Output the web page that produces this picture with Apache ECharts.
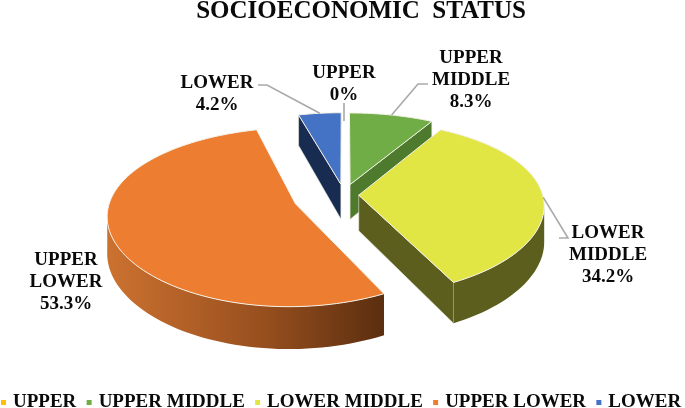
<!DOCTYPE html>
<html><head><meta charset="utf-8">
<style>html,body{margin:0;padding:0;background:#fff}#c{width:685px;height:408px}</style>
<script src="https://cdn.jsdelivr.net/npm/echarts@6/dist/echarts.min.js"></script>
</head><body><div id="c"></div>
<script>
const categories = ['UPPER', 'UPPER MIDDLE', 'LOWER MIDDLE', 'UPPER LOWER', 'LOWER'];
const values = [0, 8.3, 34.2, 53.3, 4.2];
const labelLines = [['UPPER'], ['UPPER', 'MIDDLE'], ['LOWER', 'MIDDLE'], ['UPPER', 'LOWER'], ['LOWER']];

// styles and layout, separate from the data
const topColors = ['#FFC000', '#70AD47', '#E2E645', '#ED7D31', '#4472C4'];
const sideColors = ['#7F6000', '#4E7A2E', '#5C5E1E', '#A85A24', '#182C52'];
const explode = [0, 0.13, 0.08, 0.28, 0.13];
const view = { cx: 344, cy: 195, rx: 184, ry: 85, perspX: 0.115, perspY: 0.1475, depth: 35.5 };
const labelCentres = [[344, 84], [471, 80], [608, 255], [66, 282], [217, 94]];
const leaderStarts = [[[344, 103]], [[428, 84], [418, 84]], [[559, 238], [568, 238]], [], [[258, 85], [267, 85]]];
const RAD = Math.PI / 180;
const total = values.reduce((a, b) => a + b, 0);

function project(wx, wz, down) {
  const sx = 1 / (1 + view.perspX * wz), sy = 1 / (1 + view.perspY * wz);
  return [view.cx + view.rx * wx * sx, view.cy - view.ry * wz * sy + (down ? view.depth * sy : 0)];
}
function sliceAngles(i) {
  let sum = 0;
  for (let k = 0; k < i; k++) sum += values[k];
  return [sum / total * 360, (sum + values[i]) / total * 360];
}
function rim(i, deg, down) {
  const [a0, a1] = sliceAngles(i);
  const m = (a0 + a1) / 2 * RAD, e = explode[i], t = deg * RAD;
  return project(Math.sin(t) + e * Math.sin(m), Math.cos(t) + e * Math.cos(m), down);
}
function apex(i, down) {
  const [a0, a1] = sliceAngles(i);
  const m = (a0 + a1) / 2 * RAD, e = explode[i];
  return project(e * Math.sin(m), e * Math.cos(m), down);
}
function arcPts(i, d0, d1, down) {
  const pts = [], n = Math.max(2, Math.ceil(Math.abs(d1 - d0) / 2));
  for (let k = 0; k <= n; k++) pts.push(rim(i, d0 + (d1 - d0) * k / n, down));
  return pts;
}
function poly(points, style, z2) {
  return { type: 'polygon', shape: { points }, style, z2 };
}
function renderSlice(params, api) {
  const i = api.value(0), children = [];
  const [a0, a1] = sliceAngles(i);
  if (values[i] > 0) {
    // cut faces that turn towards the viewer
    [[a0, -1], [a1, 1]].forEach(([d, sign]) => {
      const t = d * RAD;
      if (sign * -Math.sin(t) < -0.01) {
        children.push(poly([apex(i, false), rim(i, d, false), rim(i, d, true), apex(i, true)],
          { fill: sideColors[i], stroke: '#E8E8D8', lineWidth: 0.6 }, 1));
      }
    });
    // outer wall, only where it faces the viewer
    const lo = Math.max(a0, 97), hi = Math.min(a1, 263);
    if (hi > lo) {
      const pts = arcPts(i, lo, hi, false).concat(arcPts(i, hi, lo, true));
      const fill = i === 3
        ? new echarts.graphic.LinearGradient(0, 0, 1, 0, [
            { offset: 0, color: '#CC7230' }, { offset: 0.55, color: '#99501F' }, { offset: 1, color: '#5B2E0F' }])
        : sideColors[i];
      children.push(poly(pts, { fill, stroke: 'none' }, 2));
    }
    // top face
    const top = [apex(i, false)].concat(arcPts(i, a0, a1, false));
    children.push(poly(top, { fill: topColors[i], stroke: '#F4F1E6', lineWidth: 1 }, 3));
  }
  // leader line and label
  const mid = (a0 + a1) / 2;
  const leader = leaderStarts[i].concat([rim(i, mid, false)]);
  if (leader.length > 1) {
    children.push({ type: 'polyline', shape: { points: leader },
      style: { stroke: '#A9A9A9', lineWidth: 1.6, fill: 'none' }, z2: 4 });
  }
  const text = labelLines[i].concat([values[i] + '%']).join('\n');
  children.push({ type: 'text', x: labelCentres[i][0], y: labelCentres[i][1], z2: 5,
    style: { text, fill: '#0A0A0A', align: 'center', verticalAlign: 'middle',
      font: 'bold 19px "Liberation Serif"', lineHeight: 22 } });
  return { type: 'group', children };
}
const chart = echarts.init(document.getElementById('c'), null, { renderer: 'canvas' });
chart.setOption({
  animation: false,
  backgroundColor: '#fff',
  title: { text: 'SOCIOECONOMIC  STATUS', left: 356, top: -6, textAlign: 'center',
    textStyle: { fontFamily: 'Liberation Serif', fontWeight: 'bold', fontSize: 25, color: '#0A0A0A' } },
  legend: { data: categories, left: -4, top: 388, width: 800, itemWidth: 5, itemHeight: 5, itemGap: 10.3, icon: 'rect',
    textStyle: { fontFamily: 'Liberation Serif', fontWeight: 'bold', fontSize: 19, color: '#0A0A0A', padding: [0, 0, 0, 2] } },
  series: categories.map((name, i) => ({
    type: 'custom', name, coordinateSystem: 'none', silent: true,
    itemStyle: { color: topColors[i] },
    renderItem: renderSlice,
    data: [[i, values[i]]]
  }))
});
</script></body></html>
